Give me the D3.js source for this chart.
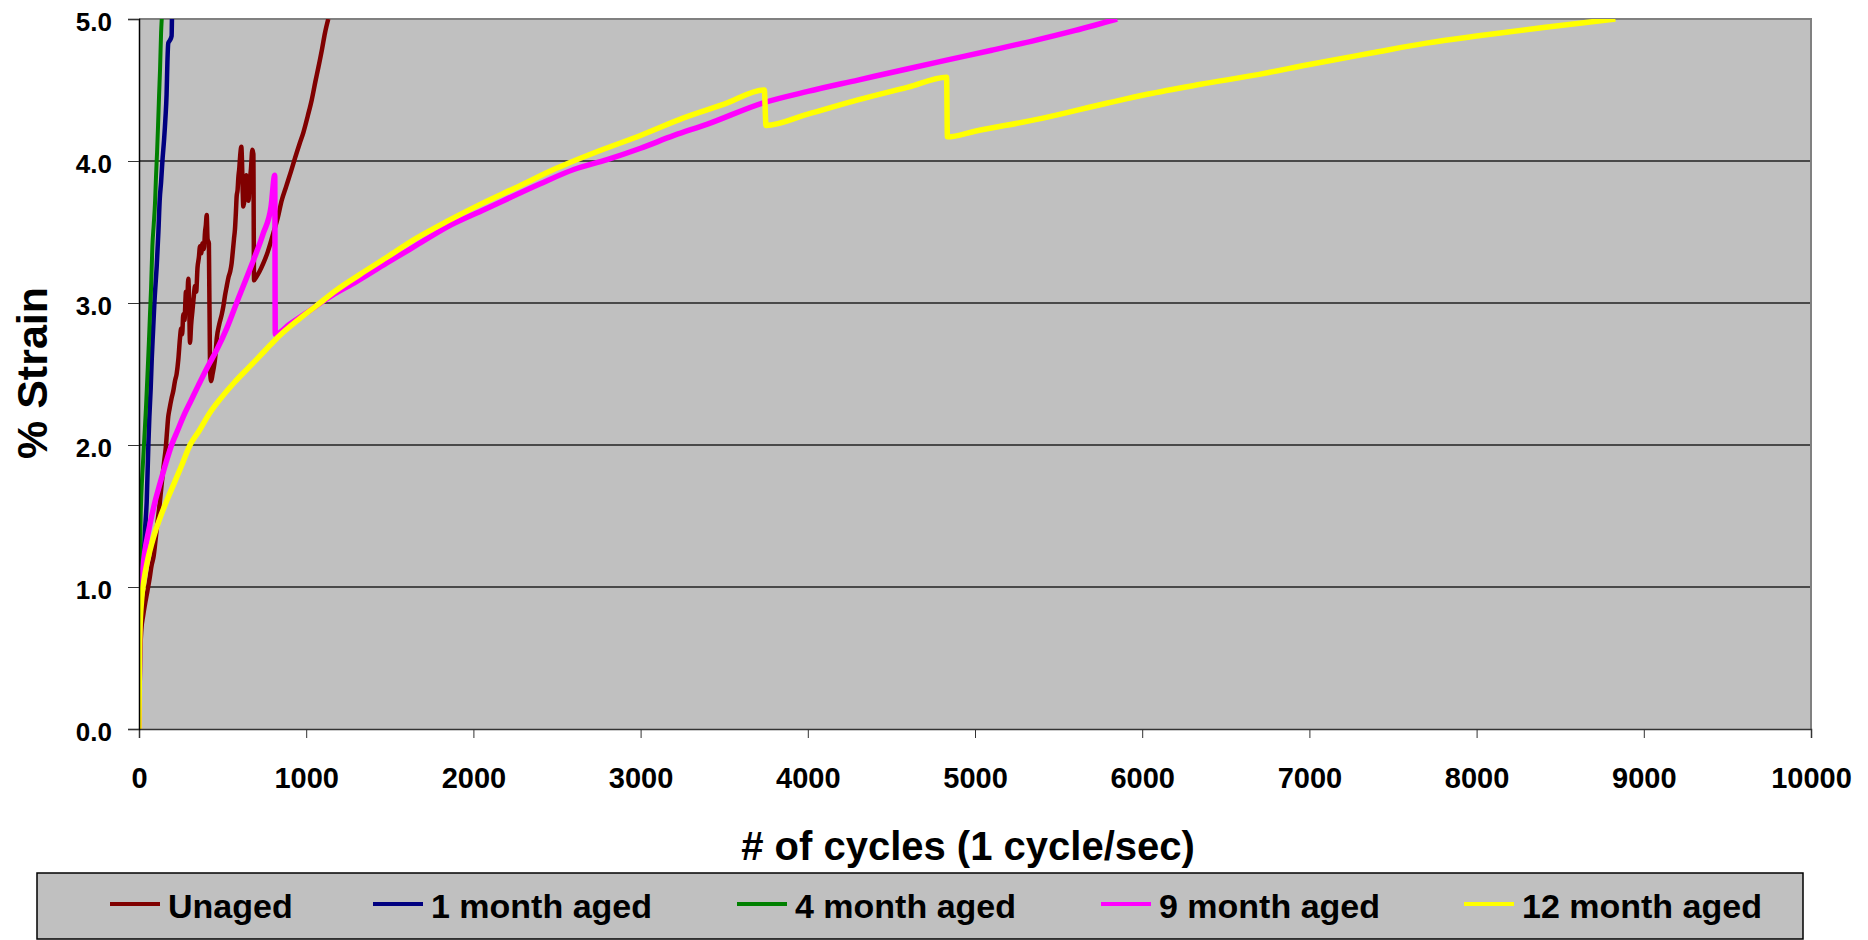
<!DOCTYPE html>
<html>
<head>
<meta charset="utf-8">
<script src="https://cdn.jsdelivr.net/npm/d3@7"></script>
<style>
  body { margin: 0; background: #fff; }
  svg { display: block; }
  text { font-family: "Liberation Sans", Arial, sans-serif; font-weight: bold; fill: #000; }
</style>
</head>
<body>
<script>
//Width and height
var w = 1868;
var h = 940;

//Series data: [cycles, % strain]
var unaged = [[0,0],[4,0.3],[8,0.55],[14,0.7],[25,0.8],[36,0.88],[50,0.97],[62,1.05],[75,1.15],[88,1.22],[96,1.3],
  [110,1.45],[125,1.6],[136,1.73],[150,1.88],[160,1.98],[168,2.1],[175,2.2],[182,2.25],[195,2.33],[205,2.38],
  [215,2.45],[225,2.5],[235,2.6],[245,2.75],[252,2.82],[258,2.78],[265,2.92],[272,2.88],[281,3.08],[288,3.02],
  [295,3.17],[300,3.0],[305,2.72],[312,2.85],[320,2.95],[328,3.05],[335,3.12],[342,3.08],[350,3.25],[358,3.32],
  [365,3.4],[372,3.35],[380,3.42],[388,3.38],[395,3.5],[400,3.55],[405,3.62],[410,3.45],[418,3.42],[425,2.52],
  [432,2.45],[440,2.5],[448,2.55],[456,2.62],[465,2.75],[480,2.85],[495,2.92],[505,2.98],[514,3.05],[525,3.12],
  [535,3.18],[545,3.22],[554,3.28],[560,3.35],[568,3.45],[574,3.52],[580,3.65],[584,3.75],[590,3.8],[594,3.88],
  [600,3.95],[606,4.05],[612,4.1],[616,4.0],[620,3.8],[624,3.68],[630,3.72],[636,3.85],[642,3.9],[648,3.8],
  [655,3.72],[662,3.85],[670,3.95],[678,4.08],[684,4.05],[688,3.16],[700,3.18],[720,3.22],[744,3.28],[770,3.36],
  [803,3.49],[830,3.6],[853,3.72],[880,3.82],[910,3.93],[933,4.02],[960,4.12],[983,4.2],[1010,4.32],[1033,4.43],
  [1055,4.56],[1073,4.66],[1095,4.79],[1112,4.9],[1132,5.0]];

var month1 = [[0,0.65],[5,0.85],[16,1.0],[26,1.15],[36,1.4],[46,1.6],[56,2.0],[62,2.2],[70,2.4],[76,2.6],[84,2.8],
  [92,3.0],[100,3.15],[106,3.26],[116,3.5],[124,3.73],[132,3.85],[140,4.0],[150,4.15],[158,4.3],[165,4.47],
  [170,4.7],[175,4.83],[185,4.85],[195,4.88],[197,5.0]];

var month4 = [[0,0.7],[2,1.0],[5,1.15],[10,1.5],[18,1.75],[26,1.92],[32,2.05],[42,2.27],[52,2.53],[60,2.75],
  [66,2.93],[72,3.1],[80,3.4],[88,3.55],[96,3.71],[102,3.9],[108,4.06],[114,4.25],[120,4.46],[126,4.65],
  [132,4.9],[136,5.0]];

var month9 = [[0,0],[3,0.55],[6,0.8],[10,0.95],[20,1.1],[36,1.26],[55,1.38],[76,1.5],[100,1.62],[126,1.73],
  [160,1.87],[195,2.0],[230,2.1],[265,2.2],[310,2.31],[355,2.42],[410,2.55],[465,2.67],[524,2.82],[590,3.02],
  [664,3.24],[743,3.49],[790,3.68],[812,3.9],[815,2.78],[900,2.85],[1000,2.93],[1150,3.05],[1300,3.15],
  [1480,3.28],[1650,3.4],[1850,3.54],[2050,3.65],[2160,3.71],[2400,3.84],[2600,3.94],[2800,4.01],[3000,4.09],
  [3200,4.18],[3400,4.26],[3734,4.41],[4000,4.49],[4300,4.57],[4600,4.65],[4830,4.71],[5100,4.78],[5360,4.85],
  [5600,4.92],[5850,5.0]];

var month12 = [[0,0],[2,0.4],[6,0.7],[15,0.9],[30,1.05],[50,1.18],[75,1.3],[100,1.4],[130,1.5],[170,1.62],
  [210,1.73],[260,1.87],[305,2.0],[360,2.1],[420,2.22],[490,2.33],[570,2.44],[660,2.55],[750,2.66],[840,2.77],
  [950,2.88],[1060,2.98],[1180,3.09],[1320,3.2],[1480,3.32],[1650,3.45],[1850,3.58],[2050,3.7],[2250,3.81],
  [2500,3.95],[2750,4.07],[3000,4.18],[3250,4.3],[3500,4.4],[3740,4.5],[3750,4.25],[4000,4.33],[4300,4.43],
  [4600,4.52],[4830,4.59],[4835,4.17],[5000,4.21],[5400,4.3],[5800,4.41],[6030,4.47],[6350,4.54],[6700,4.61],
  [7000,4.68],[7370,4.76],[7700,4.83],[8000,4.88],[8400,4.94],[8830,5.0]];

var seriesNames = ["Unaged", "1 month aged", "4 month aged", "9 month aged", "12 month aged"];
var seriesData = [unaged, month1, month4, month9, month12];
var seriesColors = ["#800000", "#000080", "#008000", "#FF00FF", "#FFFF00"];
var seriesWidths = [4.5, 4.5, 4, 5.5, 5.5];

var xTicks = [0,1000,2000,3000,4000,5000,6000,7000,8000,9000,10000];
var yTicks = [0,1,2,3,4,5];

//Plot area (no "top" name: window.top is read-only)
var plotL = 139, plotR = 1811, plotT = 19, plotB = 729;

var x = d3.scaleLinear().domain([0, 10000]).range([plotL, plotR]);
var y = d3.scaleLinear().domain([0, 5]).range([plotB, plotT]);

//Create SVG element
var svg = d3.select("body")
            .append("svg")
            .attr("width", w)
            .attr("height", h);

svg.append("defs").append("clipPath")
   .attr("id", "plotclip")
   .append("rect")
   .attr("x", plotL).attr("y", plotT)
   .attr("width", plotR - plotL).attr("height", plotB - plotT);

//grey plot background
svg.append("rect")
   .attr("x", plotL).attr("y", plotT)
   .attr("width", plotR - plotL).attr("height", plotB - plotT)
   .attr("fill", "#C0C0C0");

//horizontal gridlines
svg.selectAll("line.grid")
   .data(yTicks.filter(function(d) { return d > 0 && d < 5; }))
   .enter()
   .append("line")
   .attr("class", "grid")
   .attr("x1", plotL).attr("x2", plotR)
   .attr("y1", function(d) { return y(d); })
   .attr("y2", function(d) { return y(d); })
   .attr("stroke", "#222")
   .attr("stroke-width", 1.3);

//top and right border of the plot
svg.append("path")
   .attr("d", "M" + plotL + "," + plotT + "H" + plotR + "V" + plotB)
   .attr("fill", "none")
   .attr("stroke", "#808080")
   .attr("stroke-width", 2);

//lines
var line = d3.line()
             .curve(d3.curveMonotoneX)
             .x(function(d) { return x(d[0]); })
             .y(function(d) { return y(d[1]); });

svg.append("g")
   .attr("clip-path", "url(#plotclip)")
   .selectAll("path")
   .data(seriesData)
   .enter()
   .append("path")
   .attr("d", line)
   .attr("fill", "none")
   .attr("stroke", function(d, i) { return seriesColors[i]; })
   .attr("stroke-width", function(d, i) { return seriesWidths[i]; })
   .attr("stroke-linejoin", "miter");

//x axis
var xAxis = svg.append("g")
   .attr("transform", "translate(0," + plotB + ")")
   .call(d3.axisBottom(x).tickValues(xTicks).tickSize(9).tickPadding(29).tickFormat(d3.format("d")));
xAxis.select(".domain").attr("stroke", "#333").attr("stroke-width", 1.5);
xAxis.selectAll(".tick line").attr("stroke", "#333");
xAxis.selectAll("text").style("font-size", "29px").attr("fill", "#000");

//y axis
var yAxis = svg.append("g")
   .attr("transform", "translate(" + plotL + ",0)")
   .call(d3.axisLeft(y).tickValues(yTicks).tickSize(11).tickPadding(16).tickFormat(d3.format(".1f")));
yAxis.select(".domain").attr("stroke", "#000").attr("stroke-width", 1.5);
yAxis.selectAll(".tick line").attr("stroke", "#333");
yAxis.selectAll("text").style("font-size", "26px").attr("dy", "0.45em").attr("fill", "#000");

//axis titles
svg.append("text")
   .attr("transform", "translate(47,373) rotate(-90)")
   .attr("text-anchor", "middle")
   .style("font-size", "43px")
   .text("% Strain");

svg.append("text")
   .attr("x", 968).attr("y", 860)
   .attr("text-anchor", "middle")
   .style("font-size", "40px")
   .text("# of cycles (1 cycle/sec)");

//legend
var legend = svg.append("g");
legend.append("rect")
   .attr("x", 37).attr("y", 873)
   .attr("width", 1766).attr("height", 66)
   .attr("fill", "#C0C0C0")
   .attr("stroke", "#000")
   .attr("stroke-width", 1.5);

var legendX = [110, 373, 737, 1101, 1464];
var item = legend.selectAll("g.item")
   .data(seriesNames)
   .enter()
   .append("g")
   .attr("class", "item")
   .attr("transform", function(d, i) { return "translate(" + legendX[i] + ",0)"; });

item.append("line")
   .attr("x1", 0).attr("x2", 50)
   .attr("y1", 904).attr("y2", 904)
   .attr("stroke", function(d, i) { return seriesColors[i]; })
   .attr("stroke-width", 4);

item.append("text")
   .attr("x", 58).attr("y", 918)
   .style("font-size", "34px")
   .text(function(d) { return d; });
</script>
</body>
</html>
